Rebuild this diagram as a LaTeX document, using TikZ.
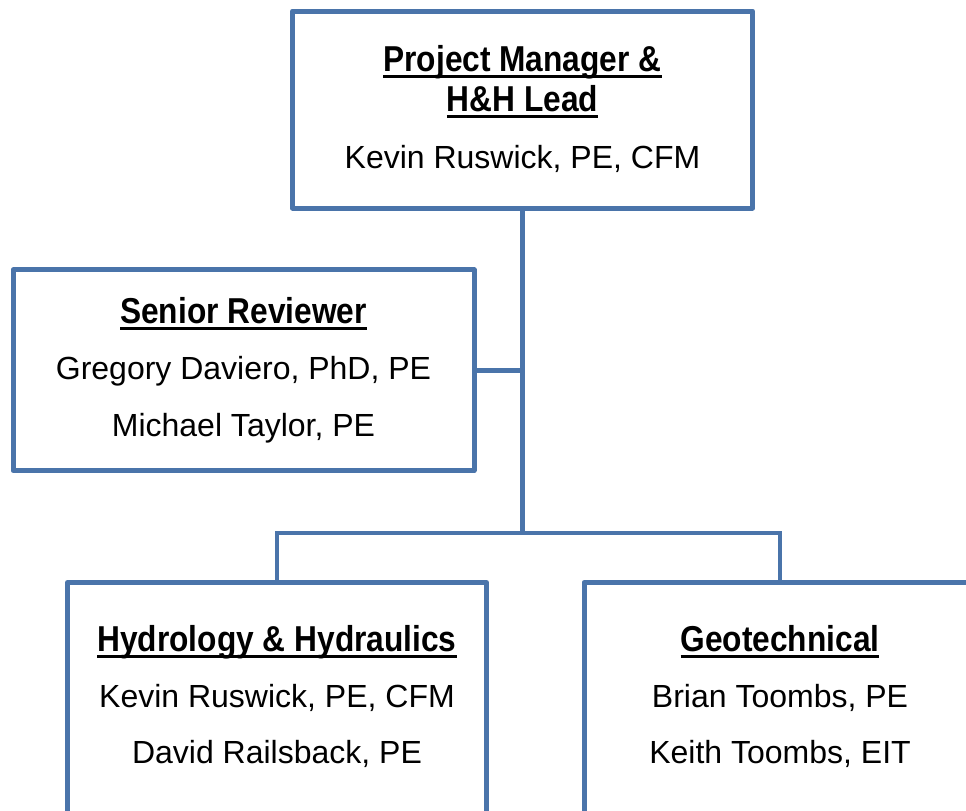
\documentclass[tikz,border=0pt]{standalone}
\usepackage{fontspec}
\setmainfont{Liberation Sans}
\newfontfamily\headfont{Liberation Sans}[FakeStretch=0.88]
\definecolor{boxblue}{RGB}{74,116,170}
\newsavebox\hdrbox
\newcommand\hdr[1]{\sbox\hdrbox{#1}\rlap{\rule[-4.9pt]{\wd\hdrbox}{2.2pt}}\usebox\hdrbox}
\begin{document}
\begin{tikzpicture}[x=0.75pt, y=-0.75pt,
  box/.style={draw=boxblue, line width=3.75pt, line join=round, rectangle, inner sep=0pt},
  conn/.style={draw=boxblue, line width=3.6pt, line join=miter},
  head/.style={anchor=base, inner sep=0pt, font=\headfont\bfseries\fontsize{27}{32}\selectfont},
  body/.style={anchor=base, inner sep=0pt, font=\fontsize{24}{28}\selectfont}]
\useasboundingbox (0,0) rectangle (966,810);
\fill[white] (0,0) rectangle (966,810);
\clip (0,0) rectangle (966,810);
% boxes
\node[box, minimum width=345pt, minimum height=147.75pt] (pm) at (522.5,109.5) {};
\node[box, minimum width=345.75pt, minimum height=150.4pt] (sr) at (243.5,370.25) {};
\node[box, minimum width=314.25pt, minimum height=187.5pt] (hh) at (277,707.5) {};
\node[box, minimum width=294pt, minimum height=187.5pt] (geo) at (780,707.5) {};
\coordinate (bar) at (522.5,533);
% connectors
\draw[conn] (pm.south) -- (bar);
\draw[conn] (sr.east) -- (sr.east -| bar);
\draw[conn] (hh.north) |- (bar) -| (geo.north);
% texts
\node[head] (pmh1) at (522.5,71.7) {\hdr{Project Manager \&}};
\node[head] (pmh2) at (522.5,111.7) {\hdr{H\&H Lead}};
\node[body] (pmn1) at (522.5,168) {Kevin Ruswick, PE, CFM};
\node[head] (srh) at (243.5,323.3) {\hdr{Senior Reviewer}};
\node[body] (srn1) at (243.5,379.3) {Gregory Daviero, PhD, PE};
\node[body] (srn2) at (243.5,436) {Michael Taylor, PE};
\node[head] (hhh) at (277,651) {\hdr{Hydrology \& Hydraulics}};
\node[body] (hhn1) at (277,707.7) {Kevin Ruswick, PE, CFM};
\node[body] (hhn2) at (277,763.3) {David Railsback, PE};
\node[head] (geoh) at (780,651) {\hdr{Geotechnical}};
\node[body] (geon1) at (780,707.7) {Brian Toombs, PE};
\node[body] (geon2) at (780,763.3) {Keith Toombs, EIT};
\end{tikzpicture}
\end{document}
